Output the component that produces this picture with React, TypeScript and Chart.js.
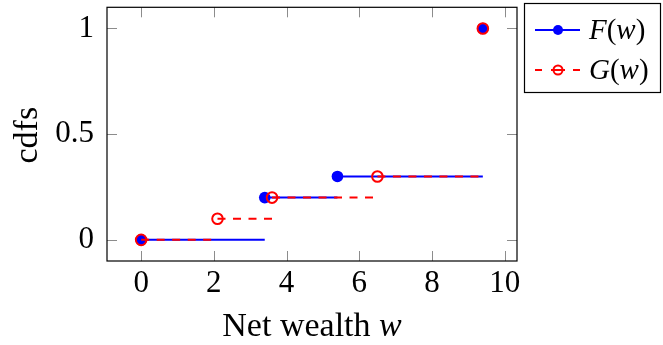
import React, { useEffect, useRef } from "react";
import { Chart, registerables } from "chart.js";

Chart.register(...registerables);

// ---- data ----
const F_X = [0, 3.4, 5.4, 9.4];
const F_Y = [0, 0.2, 0.3, 1];
const G_X = [0, 2.1, 3.6, 6.5, 9.4];
const G_Y = [0, 0.1, 0.2, 0.3, 1];
const X_TICKS = [0, 2, 4, 6, 8, 10];
const Y_TICKS = [0, 0.5, 1];
const X_RANGE = [-0.94, 10.34];
const Y_RANGE = [-0.1, 1.1];
const X_TITLE = "Net wealth ";
const X_TITLE_VAR = "w";
const Y_TITLE = "cdfs";

const BLUE = "#0000ff";
const RED = "#ff0000";
const SERIF = "'Liberation Serif', 'DejaVu Serif', serif";
const DASH = [8, 7.5];

function stepSegments(xs: number[], ys: number[]) {
  const out: { x: number; y: number | null }[] = [];
  for (let i = 0; i < xs.length - 1; i++) {
    out.push({ x: xs[i], y: ys[i] });
    out.push({ x: xs[i + 1], y: ys[i] });
    out.push({ x: xs[i + 1], y: null });
  }
  return out;
}
function points(xs: number[], ys: number[]) {
  return xs.map((x, i) => ({ x, y: ys[i] }));
}

function drawMixed(ctx: CanvasRenderingContext2D, parts: [string, boolean][], x: number, y: number, size: number, align: "left" | "center") {
  let total = 0;
  const widths = parts.map(([t, it]) => {
    ctx.font = `${it ? "italic " : ""}${size}px ${SERIF}`;
    const w = ctx.measureText(t).width;
    total += w;
    return w;
  });
  let cx = align === "center" ? x - total / 2 : x;
  ctx.textAlign = "left";
  ctx.textBaseline = "alphabetic";
  parts.forEach(([t, it], i) => {
    ctx.font = `${it ? "italic " : ""}${size}px ${SERIF}`;
    ctx.fillText(t, cx, y);
    cx += widths[i];
  });
}

const framePlugin = {
  id: "frame",
  beforeDatasetsDraw(chart: any) {
    const { ctx, chartArea: a, scales } = chart;
    ctx.save();
    ctx.strokeStyle = "#8c8c8c";
    ctx.lineWidth = 1;
    const tl = 10;
    scales.x.ticks.forEach((t: any) => {
      const px = Math.round(scales.x.getPixelForValue(t.value)) + 0.5;
      ctx.beginPath();
      ctx.moveTo(px, a.bottom);
      ctx.lineTo(px, a.bottom - tl);
      ctx.moveTo(px, a.top);
      ctx.lineTo(px, a.top + tl);
      ctx.stroke();
    });
    scales.y.ticks.forEach((t: any) => {
      const py = Math.round(scales.y.getPixelForValue(t.value)) + 0.5;
      ctx.beginPath();
      ctx.moveTo(a.left, py);
      ctx.lineTo(a.left + tl, py);
      ctx.moveTo(a.right, py);
      ctx.lineTo(a.right - tl, py);
      ctx.stroke();
    });
    ctx.restore();
  },
  afterDraw(chart: any) {
    const { ctx, chartArea: a } = chart;
    ctx.save();
    ctx.strokeStyle = "#000";
    ctx.lineWidth = 1.2;
    ctx.strokeRect(a.left, a.top, a.right - a.left, a.bottom - a.top);

    ctx.fillStyle = "#000";
    // x title
    drawMixed(ctx, [[X_TITLE, false], [X_TITLE_VAR, true]], (a.left + a.right) / 2, 336, 34, "center");
    // y title
    ctx.save();
    ctx.translate(37, (a.top + a.bottom) / 2 + 1);
    ctx.rotate(-Math.PI / 2);
    ctx.font = `34px ${SERIF}`;
    ctx.textAlign = "center";
    ctx.textBaseline = "alphabetic";
    ctx.fillText(Y_TITLE, 0, 0);
    ctx.restore();

    // legend
    const lx = 524, ly = 3, lw = 136, lh = 89;
    ctx.lineWidth = 1.2;
    ctx.strokeStyle = "#000";
    ctx.strokeRect(lx + 0.5, ly + 0.5, lw, lh);

    // F row
    const fy = 30;
    ctx.save();
    ctx.strokeStyle = BLUE;
    ctx.lineWidth = 2;
    ctx.beginPath();
    ctx.moveTo(535, fy);
    ctx.lineTo(580, fy);
    ctx.stroke();
    ctx.beginPath();
    ctx.arc(558, fy, 5, 0, Math.PI * 2);
    ctx.fillStyle = BLUE;
    ctx.fill();
    ctx.restore();

    // G row
    const gy = 70;
    ctx.save();
    ctx.strokeStyle = RED;
    ctx.lineWidth = 2;
    ctx.beginPath();
    ctx.moveTo(535, gy);
    ctx.lineTo(542, gy);
    ctx.moveTo(551, gy);
    ctx.lineTo(565, gy);
    ctx.moveTo(573, gy);
    ctx.lineTo(580, gy);
    ctx.stroke();
    ctx.beginPath();
    ctx.arc(558, gy, 4.5, 0, Math.PI * 2);
    ctx.stroke();
    ctx.restore();

    ctx.fillStyle = "#000";
    drawMixed(ctx, [["F", true], ["(", false], ["w", true], [")", false]], 589, fy + 9, 29, "left");
    drawMixed(ctx, [["G", true], ["(", false], ["w", true], [")", false]], 589, gy + 9, 29, "left");
    ctx.restore();
  },
};

export default function App() {
  const ref = useRef<HTMLCanvasElement | null>(null);
  useEffect(() => {
    if (!ref.current) return;
    const chart = new Chart(ref.current, {
      type: "line",
      data: {
        datasets: [
          {
            label: "F(w)",
            data: stepSegments(F_X, F_Y) as any,
            borderColor: BLUE,
            borderWidth: 2,
            pointRadius: 0,
            spanGaps: false,
            order: 4,
          },
          {
            label: "F marks",
            data: points(F_X, F_Y) as any,
            showLine: false,
            pointRadius: 5.8,
            pointBackgroundColor: BLUE,
            pointBorderColor: BLUE,
            pointBorderWidth: 0,
            order: 3,
          },
          {
            label: "G(w)",
            data: stepSegments(G_X, G_Y) as any,
            borderColor: RED,
            borderWidth: 2,
            borderDash: DASH,
            pointRadius: 0,
            spanGaps: false,
            order: 2,
          },
          {
            label: "G marks",
            data: points(G_X, G_Y) as any,
            showLine: false,
            pointRadius: 5.3,
            pointBackgroundColor: "rgba(0,0,0,0)",
            pointBorderColor: RED,
            pointBorderWidth: 2,
            order: 1,
          },
        ],
      },
      options: {
        responsive: false,
        animation: false,
        devicePixelRatio: 1,
        layout: { padding: { top: 4, right: 146, left: 0, bottom: 0 } },
        plugins: { legend: { display: false }, tooltip: { enabled: false } },
        scales: {
          x: {
            type: "linear",
            min: X_RANGE[0],
            max: X_RANGE[1],
            afterBuildTicks: (s: any) => {
              s.ticks = X_TICKS.map((v) => ({ value: v }));
            },
            afterFit: (s: any) => {
              s.height = 84;
              s.paddingLeft = 0;
              s.paddingRight = 0;
            },
            grid: { display: false, drawTicks: false },
            border: { display: false },
            ticks: {
              color: "#000",
              font: { family: SERIF, size: 31 },
              padding: 4,
              maxRotation: 0,
              autoSkip: false,
              callback: (v: any) => String(v),
            },
          },
          y: {
            type: "linear",
            min: Y_RANGE[0],
            max: Y_RANGE[1],
            afterBuildTicks: (s: any) => {
              s.ticks = Y_TICKS.map((v) => ({ value: v }));
            },
            afterFit: (s: any) => {
              s.width = 107;
              s.paddingTop = 0;
              s.paddingBottom = 0;
            },
            grid: { display: false, drawTicks: false },
            border: { display: false },
            ticks: {
              color: "#000",
              font: { family: SERIF, size: 31 },
              padding: 13,
              autoSkip: false,
              callback: (v: any) => String(v),
            },
          },
        },
      },
      plugins: [framePlugin],
    });
    return () => chart.destroy();
  }, []);
  return (
    <div style={{ position: "absolute", left: 0, top: 0, width: 663, height: 345, background: "#fff" }}>
      <canvas ref={ref} width={663} height={345} />
    </div>
  );
}
